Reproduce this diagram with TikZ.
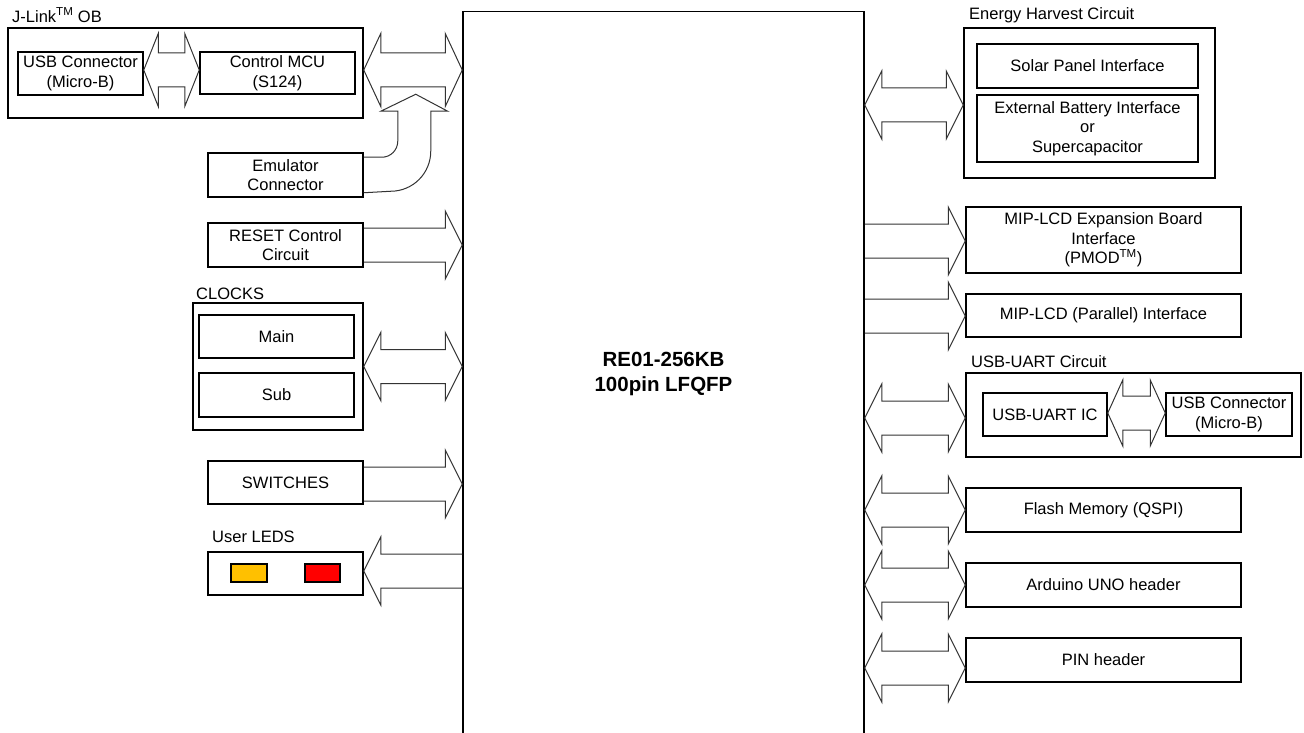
\documentclass[tikz,border=0pt]{standalone}
\usepackage{fontspec}
\setmainfont{Liberation Sans}
\usetikzlibrary{calc}
\definecolor{ledyellow}{HTML}{FFC000}
\definecolor{ledred}{HTML}{FF0000}
\newcommand\lab{\fontsize{16.5}{19.5}\selectfont}
\def\hh{34pt}\def\hs{17pt}\def\hl{17pt}
% double block arrow: x of #1 (left tip), x of #2 (right tip), y of #3
\newcommand\darrow[3]{%
 \draw[barrow] let \p1=(#1),\p2=(#2),\p3=(#3) in
 (\x1,\y3) -- (\x1+\hl,\y3+\hh) -- (\x1+\hl,\y3+\hs) -- (\x2-\hl,\y3+\hs)
 -- (\x2-\hl,\y3+\hh) -- (\x2,\y3) -- (\x2-\hl,\y3-\hh) -- (\x2-\hl,\y3-\hs)
 -- (\x1+\hl,\y3-\hs) -- (\x1+\hl,\y3-\hh) -- cycle;}
% right-pointing block arrow: tail x of #1, tip x of #2, y of #3
\newcommand\rarrow[3]{%
 \draw[barrow] let \p1=(#1),\p2=(#2),\p3=(#3) in
 (\x1,\y3+\hs) -- (\x2-\hl,\y3+\hs) -- (\x2-\hl,\y3+\hh) -- (\x2,\y3)
 -- (\x2-\hl,\y3-\hh) -- (\x2-\hl,\y3-\hs) -- (\x1,\y3-\hs);}
% left-pointing block arrow: tip x of #1, tail x of #2, y of #3
\newcommand\larrow[3]{%
 \draw[barrow] let \p1=(#1),\p2=(#2),\p3=(#3) in
 (\x2,\y3+\hs) -- (\x1+\hl,\y3+\hs) -- (\x1+\hl,\y3+\hh) -- (\x1,\y3)
 -- (\x1+\hl,\y3-\hh) -- (\x1+\hl,\y3-\hs) -- (\x2,\y3-\hs);}
\tikzset{
 box/.style={draw=black, line width=1.5pt, align=center, inner sep=0pt, font=\lab},
 grouplabel/.style={anchor=west, inner sep=0pt, font=\lab},
 barrow/.style={draw=black!80, line width=1pt, line join=miter},
 led/.style={draw=black, line width=1.3pt, inner sep=0pt},
}
\begin{document}
\begin{tikzpicture}[x=1pt,y=-1pt]
\useasboundingbox (0,0) rectangle (1304,733);

% main MCU
\node[box, minimum width=401pt, minimum height=725pt,
      font=\fontsize{20.5}{25}\selectfont\bfseries] (main) at (663.5,374) {RE01-256KB\\100pin LFQFP};

% J-Link OB
\node[grouplabel] (jlinklab) at (12,15) {J-Link\textsuperscript{TM} OB};
\node[box, minimum width=355pt, minimum height=90pt] (jlink) at (185.5,73) {};
\node[box, minimum width=125pt, minimum height=43pt] (usbj) at (80.5,73.5) {USB Connector\\(Micro-B)};
\node[box, minimum width=155pt, minimum height=42pt] (mcuc) at (277.5,73) {Control MCU\\(S124)};

% Emulator
\node[box, minimum width=155pt, minimum height=44pt] (emu) at (285.5,175) {Emulator\\Connector};

% RESET
\node[box, minimum width=155pt, minimum height=44pt] (reset) at (285.5,245) {RESET Control\\Circuit};

% CLOCKS
\node[grouplabel] (clklab) at (196,294) {CLOCKS};
\node[box, minimum width=170pt, minimum height=127pt] (clocks) at (278,366.5) {};
\node[box, minimum width=155pt, minimum height=43pt] (clkmain) at (276.5,336.5) {Main};
\node[box, minimum width=155pt, minimum height=44pt] (clksub) at (276.5,395) {Sub};

% SWITCHES
\node[box, minimum width=155pt, minimum height=43pt] (sw) at (285.5,482.5) {SWITCHES};

% User LEDS
\node[grouplabel] (ledlab) at (212,537) {User LEDS};
\node[box, minimum width=155pt, minimum height=43pt] (leds) at (285.5,573.5) {};
\node[led, fill=ledyellow, minimum width=36pt, minimum height=18pt] (ledy) at (249,573) {};
\node[led, fill=ledred, minimum width=35pt, minimum height=18pt] (ledr) at (322.5,573) {};

% Energy harvest
\node[grouplabel] (enlab) at (969,15) {Energy Harvest Circuit};
\node[box, minimum width=251pt, minimum height=150pt] (energy) at (1089.5,103) {};
\node[box, minimum width=221pt, minimum height=44pt] (solar) at (1087.5,66) {Solar Panel Interface};
\node[box, minimum width=221pt, minimum height=67pt] (batt) at (1087.5,128.5) {External Battery Interface\\or\\Supercapacitor};

% MIP-LCD
\node[box, minimum width=275pt, minimum height=66pt] (mipx) at (1103.5,240) {MIP-LCD Expansion Board\\Interface\\(PMOD\textsuperscript{TM})};
\node[box, minimum width=275pt, minimum height=43pt] (mipp) at (1103.5,315.5) {MIP-LCD (Parallel) Interface};

% USB-UART
\node[grouplabel] (uartlab) at (971,362) {USB-UART Circuit};
\node[box, minimum width=335pt, minimum height=84pt] (uart) at (1133.5,415) {};
\node[box, minimum width=124pt, minimum height=43pt] (uartic) at (1045,414.5) {USB-UART IC};
\node[box, minimum width=126pt, minimum height=43pt] (usbu) at (1229,414.5) {USB Connector\\(Micro-B)};

% Flash, Arduino, PIN
\node[box, minimum width=275pt, minimum height=44pt] (flash) at (1103.5,510) {Flash Memory (QSPI)};
\node[box, minimum width=275pt, minimum height=44pt] (ard) at (1103.5,585) {Arduino UNO header};
\node[box, minimum width=275pt, minimum height=44pt] (pin) at (1103.5,660) {PIN header};

% ---- block arrows ----
\def\hh{36.5pt}\def\hl{14.5pt}
\darrow{usbj.east}{mcuc.west}{$(usbj.center)+(0,-3.5)$}
\def\hl{17pt}
\darrow{jlink.east}{main.west}{$(jlink.center)+(0,-3)$}
\def\hh{34pt}
\rarrow{reset.east}{main.west}{reset.center}
\darrow{clocks.east}{main.west}{clocks.center}
\rarrow{sw.east}{main.west}{$(sw.center)+(0,1.5)$}
\larrow{leds.east}{main.west}{$(leds.center)+(0,-2.5)$}

\darrow{main.east}{energy.west}{$(energy.center)+(0,2)$}
\rarrow{main.east}{mipx.west}{$(mipx.center)+(0,1)$}
\rarrow{main.east}{mipp.west}{$(mipp.center)+(0,0.5)$}
\darrow{main.east}{uart.west}{$(uart.center)+(0,3)$}
\def\hh{33pt}\def\hl{15pt}
\darrow{uartic.east}{usbu.west}{$(uartic.center)+(0,-1.5)$}
\def\hh{34pt}\def\hl{17pt}
\darrow{main.east}{flash.west}{flash.center}
\darrow{main.east}{ard.west}{ard.center}
\darrow{main.east}{pin.west}{$(pin.center)+(0,8)$}

% emulator bent arrow
\draw[barrow] ($(emu.north east)+(0,5)$) -- ++(18,0)
  arc[start angle=-90, end angle=0, radius=16pt] -- ++(0,-30)
  -- ++(-17,0) -- ++(35,-17) -- ++(32,17) -- ++(-17,0) -- ++(0,40)
  arc[start angle=0, end angle=-90, radius=40pt] -- ($(emu.south east)+(0,-5)$);
\end{tikzpicture}
\end{document}
